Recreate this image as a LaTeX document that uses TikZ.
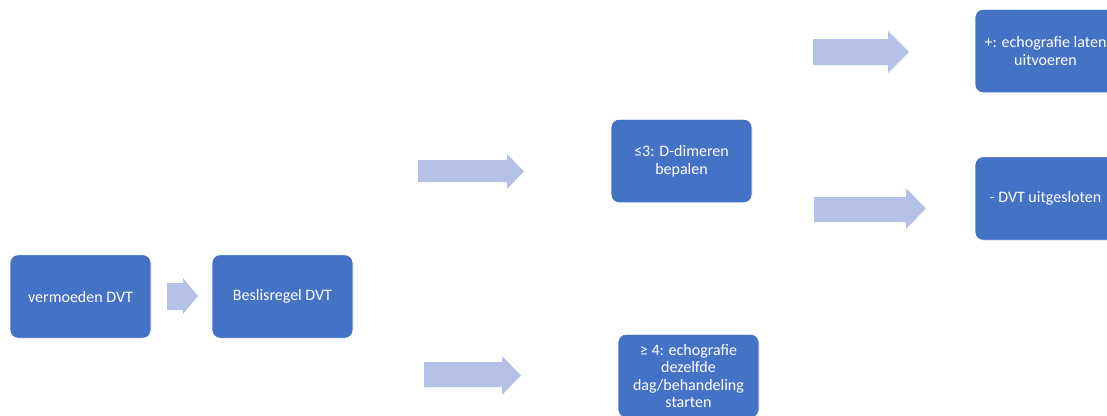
\documentclass[tikz,border=0pt]{standalone}
\usepackage{fontspec}
\setmainfont{Carlito}
\definecolor{boxblue}{HTML}{4472C4}
\definecolor{arrowblue}{HTML}{B4C1E4}
\newcommand\fatarrow[8]{% name, x1, ytop, ybot, xh, yhtop, yhbot, xtip
  \fill[arrowblue] (#2,#3) -- (#5,#3) -- (#5,#6) -- (#8,{(#6+#7)/2}) -- (#5,#7) -- (#5,#4) -- (#2,#4) -- cycle;
  \coordinate (#1) at (#8,{(#6+#7)/2});}
\begin{document}
\begin{tikzpicture}[x=1pt,y=-1pt,
  stepbox/.style={rectangle, rounded corners=8pt, fill=boxblue, draw=white, line width=0.8pt,
    minimum width=141pt, minimum height=83.5pt, inner sep=2pt, align=center,
    text=white, font=\fontsize{16}{17.5}\selectfont}]
\useasboundingbox (0,0) rectangle (1107,415);
\node[stepbox] (v) at (80.5,296.5) {vermoeden DVT};
\node[stepbox] (b) at (282.5,296.5) {Beslisregel DVT};
\node[stepbox] (d) at (681.5,161) {≤3: D-dimeren\\bepalen};
\node[stepbox] (e) at (688.5,376) {≥ 4: echografie\\dezelfde\\dag/behandeling\\starten};
\node[stepbox] (p) at (1045.5,51) {+: echografie laten\\uitvoeren};
\node[stepbox] (n) at (1045.5,198.5) {- DVT uitgesloten};
\fatarrow{a1}{167}{283}{310}{183}{278}{314}{198}
\fatarrow{a2}{418}{160}{182}{507}{154}{189}{524}
\fatarrow{a3}{424}{362}{387}{502}{356}{395}{521}
\fatarrow{a4}{813}{39}{65}{888}{31}{73}{909}
\fatarrow{a5}{814}{197}{222}{906}{188}{229}{926}
\end{tikzpicture}
\end{document}
